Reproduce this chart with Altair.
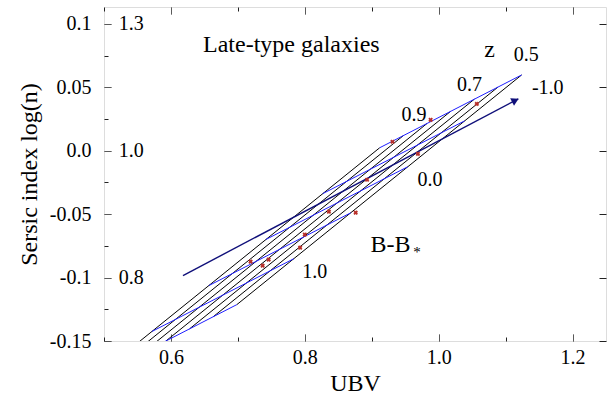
import altair as alt
import pandas as pd

# ---- data (UBV, log n) ----
# iso-z model lines (black), z = 0.5 ... 1.1, from the B-B* = -1 edge to the lower edge
black_x = [[1.1239, 0.6985], [1.0885, 0.6631], [1.0533, 0.6279], [1.0179, 0.5925],
           [0.9825, 0.5571], [0.9473, 0.5219], [0.9119, 0.4865]]
black_y = [[0.0598, -0.1213], [0.0502, -0.1309], [0.0407, -0.1404], [0.0311, -0.1500],
           [0.0215, -0.1596], [0.0120, -0.1691], [0.0024, -0.1787]]

# iso-(B-B*) model lines (blue), B-B* = -1.0 ... 1.5
blue_x = [[1.1239, 0.9119], [1.0388, 0.8268], [0.9537, 0.7417], [0.8687, 0.6567],
          [0.7836, 0.5716], [0.6985, 0.4865]]
blue_y = [[0.0598, 0.0024], [0.0236, -0.0338], [-0.0126, -0.0700], [-0.0489, -0.1063],
          [-0.0851, -0.1425], [-0.1213, -0.1787]]

arrow_x = [0.618, 1.119]
arrow_y = [-0.0984, 0.041]

obs_x = [0.988, 1.057, 0.969, 0.931, 0.893, 0.836, 0.876, 0.800, 0.793, 0.719, 0.737, 0.746]
obs_y = [0.0244, 0.037, -0.0024, 0.0071, -0.0228, -0.048, -0.0488, -0.0661, -0.0764,
         -0.0874, -0.0906, -0.0858]

word_text = ["Late-type galaxies", "B-B"]
word_x = [0.648, 0.898]
word_y = [0.0835, -0.0740]

num_text = ["1.3", "1.0", "0.8"]
num_x = [0.522, 0.522, 0.522]
num_y = [0.1, 0.0, -0.1]

mid_text = ["0.5", "0.7", "0.9", "-1.0", "0.0", "1.0"]
mid_x = [1.131, 1.046, 0.963, 1.163, 0.987, 0.815]
mid_y = [0.0756, 0.052, 0.0283, 0.0496, -0.0228, -0.0953]

z_text = ["z"]
z_x = [1.076]
z_y = [0.0795]

x_ticks = [0.5, 0.6, 0.7, 0.8, 0.9, 1.0, 1.1, 1.2]
y_ticks = [-0.15, -0.125, -0.1, -0.075, -0.05, -0.025, 0.0, 0.025, 0.05, 0.075, 0.1]
y_ticks_right = [-0.15, -0.1, -0.05, 0.0, 0.05, 0.1]

# ---- tables ----
def poly(xs, ys, name):
    rows = []
    for i, (lx, ly) in enumerate(zip(xs, ys)):
        for j, (a, b) in enumerate(zip(lx, ly)):
            rows.append({"line": f"{name}{i}", "k": j, "UBV": a, "logn": b})
    return pd.DataFrame(rows)

df_black = poly(black_x, black_y, "k")
df_blue = poly(blue_x, blue_y, "b")
df_arrow = pd.DataFrame({"UBV": arrow_x, "logn": arrow_y, "k": [0, 1]})
df_head = df_arrow.iloc[[1]]
df_obs = pd.DataFrame({"UBV": obs_x, "logn": obs_y})
df_word = pd.DataFrame({"t": word_text, "UBV": word_x, "logn": word_y})
df_num = pd.DataFrame({"t": num_text, "UBV": num_x, "logn": num_y})
df_mid = pd.DataFrame({"t": mid_text, "UBV": mid_x, "logn": mid_y})
df_z = pd.DataFrame({"t": z_text, "UBV": z_x, "logn": z_y})

FONT = "'Liberation Serif', 'Times New Roman', 'DejaVu Serif', serif"
xs = alt.Scale(domain=[0.5, 1.25], nice=False, zero=False)
ys = alt.Scale(domain=[-0.15, 0.1134], nice=False, zero=False)

x_minor = "abs(datum.value*5 - round(datum.value*5)) > 0.1"
y_minor = "abs(datum.value*20 - round(datum.value*20)) > 0.1"

TICK = "#222"

x_bottom = alt.Axis(values=x_ticks, orient="bottom", offset=-7, tickSize=7, domain=False,
                    grid=False, title="UBV", titleFont=FONT, titleFontSize=24,
                    titleFontWeight="normal", titleColor="black", titlePadding=4,
                    labelFont=FONT, labelFontSize=20, labelColor="black", labelPadding=6,
                    labelExpr=f"({x_minor}) ? '' : format(datum.value, '.1f')",
                    tickColor=TICK,
                    tickDash={"condition": {"test": x_minor, "value": [0, 3, 4, 100]},
                              "value": [1, 0]})
y_left = alt.Axis(values=y_ticks, orient="left", offset=-7, tickSize=7, domain=False,
                  grid=False, title="Sersic index log(n)", titleFont=FONT, titleFontSize=24,
                  titleFontWeight="normal", titleColor="black", titlePadding=8,
                  labelFont=FONT, labelFontSize=20, labelColor="black", labelPadding=13,
                  labelExpr=f"({y_minor}) ? '' : (datum.value == 0 ? '0.0' : toString(datum.value))",
                  tickColor=TICK,
                  tickDash={"condition": {"test": y_minor, "value": [0, 3, 4, 100]},
                            "value": [1, 0]})
x_top = alt.Axis(values=x_ticks, orient="top", offset=-7, tickSize=7, domain=False,
                 labels=False, title=None, grid=False, tickColor=TICK,
                 tickDash={"condition": {"test": x_minor, "value": [0, 3, 4, 100]},
                           "value": [1, 0]})
y_right = alt.Axis(values=y_ticks_right, orient="right", offset=-7, tickSize=7,
                   domain=False, labels=False, title=None, grid=False, tickColor=TICK)

X = alt.X("UBV:Q", scale=xs, axis=None)
Y = alt.Y("logn:Q", scale=ys, axis=None)

base_black = alt.Chart(df_black).mark_line(color="black", strokeWidth=1, clip=True).encode(
    x=alt.X("UBV:Q", scale=xs, axis=x_bottom),
    y=alt.Y("logn:Q", scale=ys, axis=y_left),
    detail="line:N", order="k:Q")

blue = alt.Chart(df_blue).mark_line(color="#1f1fff", strokeWidth=1, clip=True).encode(
    x=alt.X("UBV:Q", scale=xs, axis=x_top),
    y=alt.Y("logn:Q", scale=ys, axis=y_right),
    detail="line:N", order="k:Q")

arrow = alt.Chart(df_arrow).mark_line(color="#10107a", strokeWidth=1.4).encode(
    x=X, y=Y, order="k:Q")

head = alt.Chart(df_head).mark_point(shape="triangle-right", filled=True, color="#10107a",
                                     size=70, angle=333, opacity=1, xOffset=-3, yOffset=1.5).encode(
    x=X, y=Y)

obs = alt.Chart(df_obs).mark_point(shape="cross", angle=45, color="#b8302a", size=22,
                                   filled=True, opacity=1).encode(x=X, y=Y)

words = alt.Chart(df_word).mark_text(font=FONT, fontSize=24, color="black",
                                     baseline="middle", align="left").encode(
    x=X, y=Y, text="t:N")
nums = alt.Chart(df_num).mark_text(font=FONT, fontSize=20, color="black",
                                   baseline="middle", align="left").encode(
    x=X, y=Y, text="t:N")
mids = alt.Chart(df_mid).mark_text(font=FONT, fontSize=20, color="black",
                                   baseline="middle", align="center").encode(
    x=X, y=Y, text="t:N")
zlab = alt.Chart(df_z).mark_text(font=FONT, fontSize=24, color="black",
                                 baseline="middle", align="center").encode(
    x=X, y=Y, text="t:N")

star = alt.Chart(pd.DataFrame({"t": ["*"], "UBV": [0.962], "logn": [-0.0800]})).mark_text(
    font=FONT, fontSize=15, color="black", baseline="middle", align="left").encode(
    x=X, y=Y, text="t:N")

chart = alt.layer(base_black, blue, arrow, head, obs, words, nums, mids, zlab, star).properties(
    width=502, height=334,
    autosize=alt.AutoSizeParams(type="none"),
    padding={"left": 104, "top": 7, "right": 10, "bottom": 58},
).configure_view(stroke="#222", strokeWidth=1.2).configure(background="white")

chart.save("out.html", embed_options={"renderer": "svg", "actions": False})
